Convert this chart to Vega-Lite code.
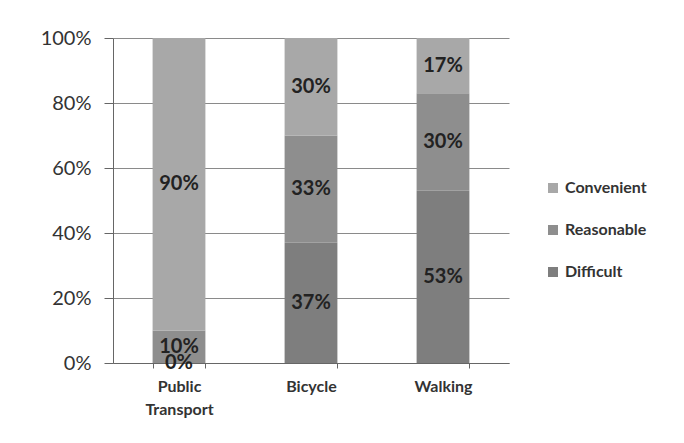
{
  "$schema": "https://vega.github.io/schema/vega-lite/v6.json",
  "width": 396,
  "height": 325,
  "autosize": "none",
  "padding": {"left": 113, "top": 38, "right": 175, "bottom": 80},
  "background": "#ffffff",
  "config": {"view": {"stroke": null}, "font": "Lato"},
  "data": {"values": [
    {"mode": "Public Transport", "rating": "Difficult", "rank": 1, "share": 0.0},
    {"mode": "Public Transport", "rating": "Reasonable", "rank": 2, "share": 0.10},
    {"mode": "Public Transport", "rating": "Convenient", "rank": 3, "share": 0.90},
    {"mode": "Bicycle", "rating": "Difficult", "rank": 1, "share": 0.37},
    {"mode": "Bicycle", "rating": "Reasonable", "rank": 2, "share": 0.33},
    {"mode": "Bicycle", "rating": "Convenient", "rank": 3, "share": 0.30},
    {"mode": "Walking", "rating": "Difficult", "rank": 1, "share": 0.53},
    {"mode": "Walking", "rating": "Reasonable", "rank": 2, "share": 0.30},
    {"mode": "Walking", "rating": "Convenient", "rank": 3, "share": 0.17}
  ]},
  "encoding": {
    "x": {
      "field": "mode", "type": "nominal",
      "sort": ["Public Transport", "Bicycle", "Walking"],
      "scale": {"paddingInner": 0.6, "paddingOuter": 0.3},
      "axis": {
        "title": null, "labelAngle": 0,
        "labelExpr": "datum.value == 'Public Transport' ? ['Public', 'Transport'] : datum.value",
        "labelFont": "Lato", "labelFontWeight": "bold", "labelFontSize": 16,
        "labelColor": "#333333", "labelPadding": 10, "labelLineHeight": 23,
        "domainColor": "#666666", "tickColor": "#666666", "tickBand": "extent", "tickSize": 5
      }
    }
  },
  "layer": [
    {
      "mark": {"type": "bar"},
      "encoding": {
        "y": {
          "field": "share", "type": "quantitative", "stack": "zero",
          "scale": {"domain": [0, 1]},
          "axis": {
            "title": null, "format": ".0%", "values": [0, 0.2, 0.4, 0.6, 0.8, 1],
            "labelFont": "Lato", "labelFontSize": 20, "labelColor": "#333333",
            "labelPadding": 13, "gridColor": "#8a8a8a", "gridWidth": 1,
            "domainColor": "#666666", "tickColor": "#666666", "tickSize": 9, "tickOffset": 0
          }
        },
        "color": {
          "field": "rating", "type": "nominal",
          "scale": {"domain": ["Convenient", "Reasonable", "Difficult"], "range": ["#a8a8a8", "#8e8e8e", "#7e7e7e"]},
          "legend": {
            "title": null, "orient": "none", "legendX": 432, "legendY": 142,
            "symbolType": "square", "symbolSize": 100, "rowPadding": 26,
            "labelFont": "Lato", "labelFontWeight": "bold", "labelFontSize": 16, "labelColor": "#333333",
            "symbolStrokeWidth": 0
          }
        },
        "order": {"field": "rank", "type": "quantitative"}
      }
    },
    {
      "mark": {"type": "text", "font": "Lato", "fontWeight": "bold", "fontSize": 20, "color": "#222222", "baseline": "middle"},
      "encoding": {
        "y": {"field": "share", "type": "quantitative", "stack": "zero", "bandPosition": 0.5},
        "text": {"field": "share", "type": "quantitative", "format": ".0%"},
        "detail": {"field": "rating", "type": "nominal"},
        "order": {"field": "rank", "type": "quantitative"}
      }
    }
  ]
}
